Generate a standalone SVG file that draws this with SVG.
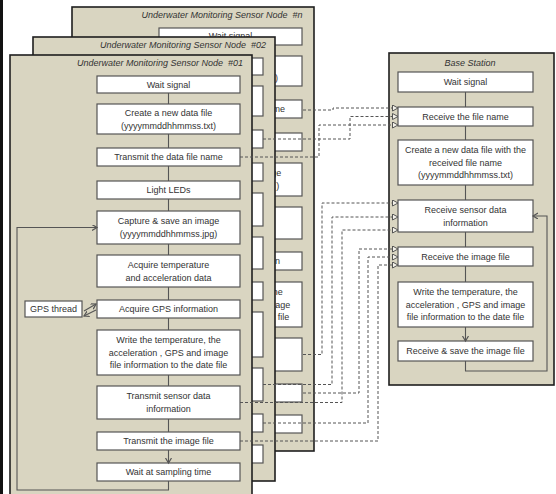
<svg xmlns="http://www.w3.org/2000/svg" width="556" height="494" viewBox="0 0 556 494">
<style>
.panel{fill:#d9d5c1;stroke:#1e1e1e;stroke-width:1.6}
.box{fill:#fff;stroke:#555;stroke-width:1.2}
.t{font-family:"Liberation Sans",Arial,sans-serif;font-size:9px;fill:#333;text-anchor:middle}
.te{font-family:"Liberation Sans",Arial,sans-serif;font-size:9px;fill:#333;text-anchor:end}
.ti{font-family:"Liberation Sans",Arial,sans-serif;font-size:9px;fill:#333;text-anchor:middle;font-style:italic}
.fl{fill:none;stroke:#555;stroke-width:1.1;marker-end:url(#ah)}
.dl{fill:none;stroke:#555;stroke-width:1;stroke-dasharray:3 2;marker-end:url(#tri)}
</style>
<defs>
<marker id="ah" markerWidth="8" markerHeight="8" refX="5" refY="3" orient="auto" markerUnits="userSpaceOnUse"><path d="M0,0 L5,3 L0,6" fill="none" stroke="#555" stroke-width="1.2"/></marker>
<marker id="tri" markerWidth="8" markerHeight="8" refX="6" refY="3.5" orient="auto" markerUnits="userSpaceOnUse"><path d="M0.5,0.5 L6,3.5 L0.5,6.5 Z" fill="#f4f2ea" stroke="#555" stroke-width="1"/></marker>
</defs>
<rect x="0" y="0" width="556" height="494" fill="#fff"/>
<rect x="0" y="0" width="3" height="494" fill="#111"/>

<g id="node-n" transform="translate(62,-48)">
<rect class="panel" x="10" y="55" width="242" height="444"/>
<text class="ti" x="160" y="66" xml:space="preserve">Underwater Monitoring Sensor Node  #n</text>
<rect class="box" x="97" y="76" width="143" height="17"/><text class="t" x="168.5" y="86.5">Wait signal</text>
<rect class="box" x="97" y="104" width="143" height="30"/><text class="te" x="216" y="128.5">)</text>
<rect class="box" x="97" y="148" width="143" height="18"/><text class="te" x="223" y="160">me</text>
<rect class="box" x="97" y="181" width="143" height="18"/>
<rect class="box" x="97" y="211" width="143" height="33"/><text class="te" x="219.3" y="224">ge</text><text class="te" x="217.3" y="237">)</text>
<rect class="box" x="97" y="255" width="143" height="32"/>
<rect class="box" x="97" y="300" width="143" height="18"/><text class="te" x="218" y="312">on</text>
<rect class="box" x="97" y="330" width="143" height="45"/><text class="te" x="220.8" y="343">he</text><text class="te" x="228.3" y="355.5">age</text><text class="te" x="227.3" y="368">file</text>
<rect class="box" x="97" y="386" width="143" height="33"/>
<rect class="box" x="97" y="432" width="143" height="18"/>
<rect class="box" x="97" y="463" width="143" height="18"/>
<path class="fl" d="M168.5,93V104M168.5,134V148M168.5,166V181M168.5,199V211M168.5,244V255M168.5,287V300M168.5,318V330M168.5,375V386M168.5,419V432M168.5,450V463"/>
</g>

<g id="node-02" transform="translate(23,-18)">
<rect class="panel" x="10" y="55" width="242" height="444"/>
<text class="ti" x="160" y="66" xml:space="preserve">Underwater Monitoring Sensor Node  #02</text>
<rect class="box" x="97" y="76" width="143" height="17"/>
<rect class="box" x="97" y="104" width="143" height="30"/>
<rect class="box" x="97" y="148" width="143" height="18"/>
<rect class="box" x="97" y="181" width="143" height="18"/>
<rect class="box" x="97" y="211" width="143" height="33"/>
<rect class="box" x="97" y="255" width="143" height="32"/>
<rect class="box" x="97" y="300" width="143" height="18"/>
<rect class="box" x="97" y="330" width="143" height="45"/>
<rect class="box" x="97" y="386" width="143" height="33"/>
<rect class="box" x="97" y="432" width="143" height="18"/>
<rect class="box" x="97" y="463" width="143" height="18"/>
</g>

<g id="node-01">
<rect class="panel" x="10" y="55" width="242" height="444"/>
<text class="ti" x="160" y="66" xml:space="preserve">Underwater Monitoring Sensor Node  #01</text>
<g id="n01-wait"><rect class="box" x="97" y="76" width="143" height="17"/><text class="t" x="168.5" y="87.5">Wait signal</text></g>
<g id="n01-create"><rect class="box" x="97" y="104" width="143" height="30"/><text class="t" x="168.5" y="115.5">Create a new data file</text><text class="t" x="168.5" y="128.5">(yyyymmddhhmmss.txt)</text></g>
<g id="n01-tname"><rect class="box" x="97" y="148" width="143" height="18"/><text class="t" x="168.5" y="160">Transmit the data file name</text></g>
<g id="n01-leds"><rect class="box" x="97" y="181" width="143" height="18"/><text class="t" x="168.5" y="193">Light LEDs</text></g>
<g id="n01-capture"><rect class="box" x="97" y="211" width="143" height="33"/><text class="t" x="168.5" y="224">Capture &amp; save an image</text><text class="t" x="168.5" y="237">(yyyymmddhhmmss.jpg)</text></g>
<g id="n01-acq"><rect class="box" x="97" y="255" width="143" height="32"/><text class="t" x="168.5" y="267.5">Acquire temperature</text><text class="t" x="168.5" y="280.5">and acceleration data</text></g>
<g id="n01-gps"><rect class="box" x="97" y="300" width="143" height="18"/><text class="t" x="168.5" y="312">Acquire GPS information</text></g>
<g id="n01-gpsthread"><rect class="box" x="25" y="301" width="57" height="16"/><text class="t" x="53.5" y="312">GPS thread</text></g>
<g id="n01-write"><rect class="box" x="97" y="330" width="143" height="45"/><text class="t" x="168.5" y="343">Write the temperature,  the</text><text class="t" x="168.5" y="355.5">acceleration , GPS and image</text><text class="t" x="168.5" y="368">file information to the date file</text></g>
<g id="n01-tsensor"><rect class="box" x="97" y="386" width="143" height="33"/><text class="t" x="168.5" y="399">Transmit sensor data</text><text class="t" x="168.5" y="412">information</text></g>
<g id="n01-timage"><rect class="box" x="97" y="432" width="143" height="18"/><text class="t" x="168.5" y="444">Transmit the image file</text></g>
<g id="n01-waitsamp"><rect class="box" x="97" y="463" width="143" height="18"/><text class="t" x="168.5" y="475">Wait at sampling time</text></g>
<path class="fl" d="M168.5,93V104M168.5,134V148M168.5,166V181M168.5,199V211M168.5,244V255M168.5,287V300M168.5,318V330M168.5,375V386M168.5,419V432M168.5,450V463"/>
<path class="fl" d="M168.5,481V490H17V227.5H97"/>
<path class="fl" d="M84,311L96,304"/>
<path class="fl" d="M96,310L84,316"/>
</g>

<g id="base-station">
<rect class="panel" x="389" y="53" width="165" height="332"/>
<text class="ti" x="470" y="66">Base Station</text>
<g id="b-wait"><rect class="box" x="398" y="72" width="135" height="20"/><text class="t" x="465.5" y="85">Wait signal</text></g>
<g id="b-recvname"><rect class="box" x="398" y="107" width="135" height="19"/><text class="t" x="465.5" y="119.5">Receive the file name</text></g>
<g id="b-create"><rect class="box" x="398" y="140" width="135" height="45"/><text class="t" x="465.5" y="153">Create a new data file with the</text><text class="t" x="465.5" y="165.5">received file name</text><text class="t" x="465.5" y="178">(yyyymmddhhmmss.txt)</text></g>
<g id="b-recvsensor"><rect class="box" x="398" y="200" width="135" height="32"/><text class="t" x="465.5" y="212.5">Receive sensor data</text><text class="t" x="465.5" y="225.5">information</text></g>
<g id="b-recvimage"><rect class="box" x="398" y="247" width="135" height="19"/><text class="t" x="465.5" y="259.5">Receive the image file</text></g>
<g id="b-write"><rect class="box" x="398" y="282" width="135" height="45"/><text class="t" x="465.5" y="295">Write the temperature,  the</text><text class="t" x="465.5" y="307.5">acceleration , GPS and image</text><text class="t" x="465.5" y="320">file information to the date file</text></g>
<g id="b-save"><rect class="box" x="398" y="341" width="135" height="20"/><text class="t" x="465.5" y="354">Receive &amp; save the image file</text></g>
<path class="fl" d="M465.5,92V107M465.5,126V140M465.5,185V200M465.5,232V247M465.5,266V282M465.5,327V341"/>
<path class="fl" d="M465.5,361V371H547V216H533"/>
</g>

<g id="connectors">
<path class="dl" d="M303,110H333V108H398"/>
<path class="dl" d="M263,139H350V116.5H398"/>
<path class="dl" d="M240,157H319V125H398"/>
<path class="dl" d="M303,354.5H322V203H398"/>
<path class="dl" d="M263,384.5H332V217H398"/>
<path class="dl" d="M240,402.5H342V230H398"/>
<path class="dl" d="M303,393H359V249H398"/>
<path class="dl" d="M263,423H368V257H398"/>
<path class="dl" d="M240,441H378V265H398"/>
</g>
</svg>
